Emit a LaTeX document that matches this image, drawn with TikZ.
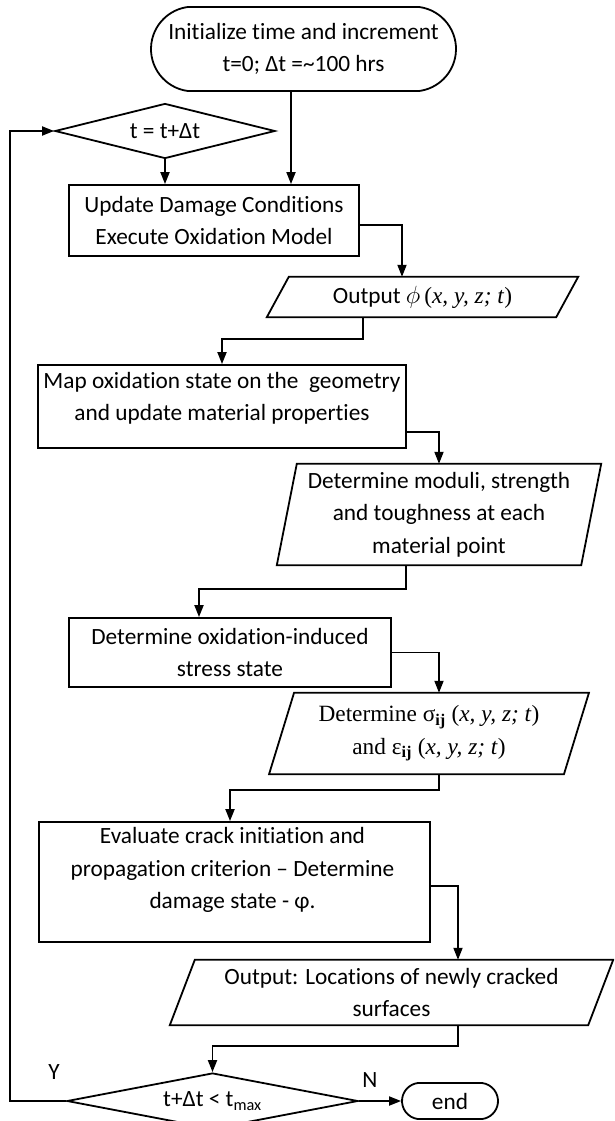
\documentclass[tikz,border=0pt]{standalone}
\usepackage{fontspec}
\setmainfont[Ligatures=NoCommon]{Carlito}
\newfontfamily\tnr{Liberation Serif}
\usetikzlibrary{arrows.meta,shapes.geometric,shapes.misc}
\newcommand\mypara[7]{%
  \node[txt, minimum width=#4pt, minimum height=#5pt] (#1) at (#2,#3) {#7};
  \draw[line] ([xshift=#6pt]#1.north west) -- (#1.north east) -- ([xshift=-#6pt]#1.south east) -- (#1.south west) -- cycle;
}
\begin{document}
\begin{tikzpicture}[x=1pt,y=-1pt,
  line/.style={line width=1.8pt, draw=black, line join=miter},
  arr/.style={line width=1.8pt, draw=black, -{Triangle[length=12pt,width=9pt]}},
  base/.style={font=\fontsize{23.3}{32.5}\selectfont, align=center, inner sep=0pt, text=black},
  txt/.style={base},
  boxn/.style={base, draw, line width=1.8pt, rectangle},
  term/.style={base, draw, line width=1.8pt, rounded rectangle, rounded rectangle arc length=165},
  dec/.style={base, draw, line width=1.8pt, diamond, aspect=4},
]
\useasboundingbox (0,0) rectangle (614,1121);
\clip (0,0) rectangle (614,1121);

% nodes
\node[term, minimum width=305pt, minimum height=84pt] (start) at (303.5,49) {Initialize time and increment\\t=0; Δt =\textasciitilde 100 hrs};
\node[dec, minimum width=220pt, minimum height=55pt] (d1) at (165,131) {t = t+Δt};
\node[boxn, minimum width=290.5pt, minimum height=71pt] (b1) at (214,220.5) {Update Damage Conditions\\Execute Oxidation Model};
\mypara{p1}{422.5}{297}{311}{40}{22}{Output $\phi$\,{\tnr(\textit{x, y, z; t})}}
\node[boxn, minimum width=368pt, minimum height=83pt] (b2) at (222,406.5) {};
\node[txt] (b2t) at (222,398.5) {Map oxidation state on the\ \ geometry\\and update material properties};
\mypara{p2}{439}{514.5}{324}{101}{20}{Determine moduli, strength\\and toughness at each\\material point}
\node[boxn, minimum width=322.5pt, minimum height=69pt] (b3) at (230,652.5) {Determine oxidation-induced\\stress state};
\mypara{p3}{429}{733.5}{319.5}{81}{25}{{\tnr Determine σ\textsubscript{\textbf{ij}} (\textit{x, y, z; t})}\\{\tnr and ε\textsubscript{\textbf{ij}} (\textit{x, y, z; t})}}
\node[boxn, minimum width=391pt, minimum height=120pt] (b4) at (234.5,882) {};
\node[txt] (b4t) at (232.5,870) {Evaluate crack initiation and\\propagation criterion – Determine\\damage state - φ.};
\mypara{p4}{391.5}{992.5}{443}{65}{25}{Output: Locations of newly cracked\\surfaces}
\node[dec, minimum width=291pt, minimum height=56pt] (d2) at (212.5,1101) {t+Δt < t\textsubscript{max}};
\node[term, minimum width=96pt, minimum height=36pt] (endn) at (450,1101) {end};
\node[txt] (lY) at (54,1072) {Y};
\node[txt] (lN) at (370,1080) {N};

% connector columns
\coordinate (xa) at (291,0);
\coordinate (xb) at (402,0);
\coordinate (xc) at (363,0);
\coordinate (xd) at (406,0);
\coordinate (xe) at (199,0);
\coordinate (xf) at (439,0);
\coordinate (xg) at (230,0);
\coordinate (xh) at (458,0);
\coordinate (xl) at (10,0);

% connectors
\draw[arr] (start.south -| xa) -- (b1.north -| xa);
\draw[arr] (d1.south) -- (b1.north -| d1.south);
\draw[arr] ([yshift=-4.5pt]b1.east) -| (p1.north -| xb);
\draw[arr] (p1.south -| xc) -- ++(0,22) -| (b2.north);
\draw[arr] ([yshift=-25.5pt]b2.east) -| (p2.north);
\draw[arr] (p2.south -| xd) -- ++(0,24) -| (b3.north -| xe);
\draw[arr] (b3.east) -| (p3.north -| xf);
\draw[arr] (p3.south -| xf) -- ++(0,16) -| (b4.north -| xg);
\draw[arr] ([yshift=-4pt]b4.east) -| (p4.north -| xh);
\draw[arr] (p4.south -| xh) -- ++(0,21) -| (d2.north);
\draw[arr] (d2.east) -- (endn.west);
\draw[arr] (d2.west) -- (d2.west -| xl) |- (d1.west);
\end{tikzpicture}
\end{document}
